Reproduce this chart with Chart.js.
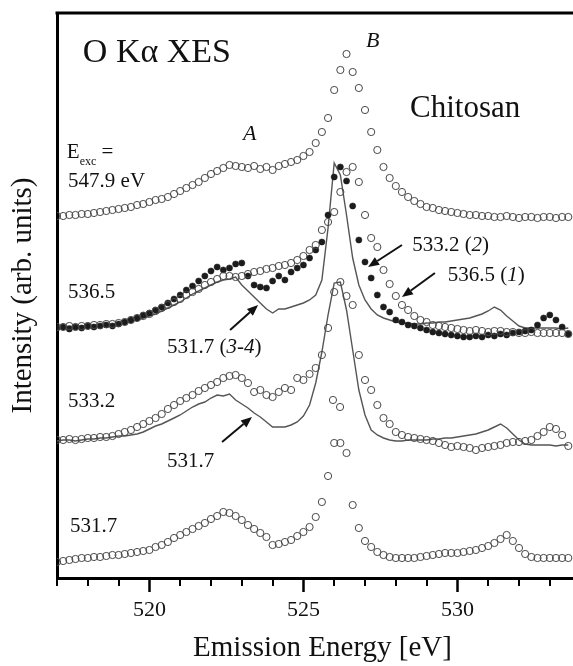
<!DOCTYPE html>
<html>
<head>
<meta charset="utf-8">
<title>O K-alpha XES, Chitosan</title>
<script src="https://cdn.jsdelivr.net/npm/chart.js@4.4.1/dist/chart.umd.min.js"></script>
<style>
  html, body { margin: 0; padding: 0; background: #fff; }
  canvas { display: block; }
</style>
</head>
<body>
<canvas id="xesChart" width="573" height="666"></canvas>
<script>
// --- Data (emission energy in eV, intensity in arb. units, curves already offset) ---
const energy = [
  517.0, 517.2, 517.4, 517.6, 517.8, 518.0, 518.2, 518.4, 518.6, 518.8,
  519.0, 519.2, 519.4, 519.6, 519.8, 520.0, 520.2, 520.4, 520.6, 520.8,
  521.0, 521.2, 521.4, 521.6, 521.8, 522.0, 522.2, 522.4, 522.6, 522.8,
  523.0, 523.2, 523.4, 523.6, 523.8, 524.0, 524.2, 524.4, 524.6, 524.8,
  525.0, 525.2, 525.4, 525.6, 525.8, 526.0, 526.2, 526.4, 526.6, 526.8,
  527.0, 527.2, 527.4, 527.6, 527.8, 528.0, 528.2, 528.4, 528.6, 528.8,
  529.0, 529.2, 529.4, 529.6, 529.8, 530.0, 530.2, 530.4, 530.6, 530.8,
  531.0, 531.2, 531.4, 531.6, 531.8, 532.0, 532.2, 532.4, 532.6, 532.8,
  533.0, 533.2, 533.4, 533.6
];

// E_exc = 547.9 eV (open circles, top)
const exc547_9 = [
  362, 362, 363, 363, 364, 364, 365, 366, 367, 368,
  369, 370, 371, 373, 374, 376, 378, 379, 381, 384,
  387, 390, 393, 396, 400, 404, 407, 410, 413, 412,
  411, 410, 412, 409, 411, 408, 412, 414, 416, 418,
  422, 426, 435, 446, 460, 488, 508, 524, 506, 490,
  468, 446, 428, 411, 400, 392, 386, 381, 377, 374,
  371, 370, 368, 367, 366, 365, 364, 363, 363, 362,
  362, 361, 361, 362, 361, 360, 361, 361, 360, 361,
  361, 360, 361, 361
];

// 536.5 eV group: (1) open circles, (2) 533.2 filled dots, (3-4) 531.7 line
const exc536_5 = [
  251, 251, 252, 251, 252, 252, 253, 253, 254, 254,
  255, 256, 258, 260, 262, 264, 267, 270, 273, 276,
  279, 283, 286, 289, 293, 296, 299, 302, 302, 301,
  302, 304, 306, 307, 309, 310, 312, 313, 315, 318,
  322, 328, 333, 348, 356, 366, 386, 406, 411, 396,
  363, 340, 331, 308, 294, 282, 273, 268, 262, 258,
  256, 253, 252, 251, 250, 249, 248, 247, 248, 247,
  246, 247, 247, 246, 246, 245, 245, 246, 245, 245,
  245, 245, 245, 244
];
const exc533_2dots = [
  250, 251, 249, 251, 250, 252, 251, 252, 253, 252,
  254, 256, 258, 260, 263, 265, 268, 271, 275, 279,
  283, 288, 292, 297, 302, 307, 311, 308, 310, 314,
  315, 302, 293, 291, 290, 297, 302, 298, 306, 310,
  313, 320, 328, 336, 363, 401, 411, 397, 372, 338,
  316, 300, 283, 271, 266, 258, 256, 253, 252, 250,
  248, 246, 245, 244, 243, 242, 241, 241, 242, 241,
  243, 242, 244, 243, 245, 246, 247, 248, 253, 260,
  263, 258, 251, 244
];
const exc531_7lineTop = [
  251, 251, 252, 251, 252, 252, 253, 252, 253, 254,
  254, 255, 257, 258, 260, 262, 264, 267, 270, 273,
  276, 280, 284, 287, 290, 293, 296, 298, 299, 301,
  293, 287, 281, 275, 269, 265, 269, 269, 271, 273,
  275, 278, 283, 298, 350, 415, 403, 363, 320, 293,
  278, 269, 263, 260, 258, 256, 255, 255, 254, 254,
  255, 255, 256, 256, 257, 258, 259, 260, 262, 264,
  267, 271, 268, 262, 257, 252, 250, 250, 250, 250,
  250, 250, 249, 250
];

// 533.2 eV group: open circles + 531.7 line
const exc533_2 = [
  138, 138, 139, 138, 139, 140, 140, 141, 141, 142,
  144, 146, 148, 151, 154, 157, 160, 164, 169, 173,
  177, 180, 183, 187, 190, 193, 196, 200, 202, 203,
  200, 195, 186, 188, 183, 181, 186, 190, 188, 200,
  198, 204, 210, 223, 250, 286, 296, 282, 273, 223,
  198, 188, 173, 160, 154, 146, 143, 141, 140, 139,
  138, 137, 135, 133, 131, 132, 131, 130, 128, 130,
  131, 132, 133, 135, 136, 136, 137, 138, 142, 146,
  151, 149, 143, 132
];
const exc533_2strayE = [525.96, 526.19];
const exc533_2strayI = [178, 171];
const exc531_7lineMid = [
  137, 138, 138, 137, 138, 139, 139, 140, 140, 141,
  142, 142, 143, 144, 146, 149, 152, 154, 157, 160,
  163, 167, 171, 174, 176, 180, 183, 182, 184, 178,
  174, 170, 165, 161, 156, 151, 151, 151, 153, 156,
  162, 173, 195, 226, 263, 295, 296, 268, 228, 188,
  163, 148, 143, 140, 138, 137, 137, 138, 138, 138,
  138, 139, 139, 140, 140, 141, 142, 143, 144, 146,
  148, 151, 154, 150, 144, 138, 134, 133, 133, 133,
  133, 132, 133, 133
];

// E_exc = 531.7 eV (open circles, bottom)
const exc531_7 = [
  16, 17, 18, 19, 20, 20, 21, 21, 22, 23,
  23, 24, 25, 26, 27, 28, 31, 33, 36, 40,
  43, 46, 49, 52, 55, 59, 62, 66, 65, 62,
  58, 53, 49, 45, 41, 33, 34, 36, 38, 42,
  46, 51, 61, 76, 102, 135, 135, 125, 73, 50,
  37, 31, 26, 23, 21, 20, 20, 20, 20, 21,
  22, 23, 24, 25, 25, 25, 26, 27, 28, 30,
  32, 35, 39, 43, 37, 30, 24, 21, 20, 20,
  20, 20, 20, 20
];

const majorTicks = [520, 525, 530];
const minorTicks = [517, 518, 519, 521, 522, 523, 524, 526, 527, 528, 529, 531, 532, 533, 534];

// --- Styling ---
const SERIF = "'Liberation Serif', 'Times New Roman', serif";
const INK = '#111';
const CROP = 15; // the original frame runs on past the right edge of the picture

function points(xs, ys) {
    return xs.map((e, i) => ({ x: e, y: ys[i] }));
}

const openCircles = {
    showLine: false,
    pointStyle: 'circle',
    pointRadius: 3.6,
    borderWidth: 1,
    borderColor: '#474747',
    backgroundColor: 'rgba(0,0,0,0)'
};
const filledDots = {
    showLine: false,
    pointStyle: 'circle',
    pointRadius: 3.1,
    borderWidth: 0.5,
    borderColor: '#1c1c1c',
    backgroundColor: '#1c1c1c'
};
const solidLine = {
    showLine: true,
    pointRadius: 0,
    borderWidth: 1.4,
    borderColor: '#555',
    backgroundColor: '#555',
    tension: 0
};

// Text labels and arrows, placed in data coordinates (eV, intensity)
const notes = [
    { e: 517.84, v: 516, parts: [{ t: 'O K\u03B1 XES', sz: 34 }] },
    { e: 523.04, v: 438, parts: [{ t: 'A', sz: 22, it: true }] },
    { e: 527.03, v: 531, parts: [{ t: 'B', sz: 22, it: true }] },
    { e: 528.46, v: 461, parts: [{ t: 'Chitosan', sz: 31 }] },
    { e: 517.32, v: 420, parts: [{ t: 'E', sz: 21 }, { t: 'exc', sz: 12, dy: 7 }, { t: ' =', sz: 21 }] },
    { e: 517.36, v: 391, parts: [{ t: '547.9 eV', sz: 21 }] },
    { e: 517.36, v: 280, parts: [{ t: '536.5', sz: 21 }] },
    { e: 517.36, v: 171, parts: [{ t: '533.2', sz: 21 }] },
    { e: 517.42, v: 46, parts: [{ t: '531.7', sz: 21 }] },
    { e: 520.57, v: 225, parts: [{ t: '531.7 (', sz: 21 }, { t: '3-4', sz: 21, it: true }, { t: ')', sz: 21 }] },
    { e: 520.57, v: 111, parts: [{ t: '531.7', sz: 21 }] },
    { e: 528.53, v: 327, parts: [{ t: '533.2 (', sz: 21 }, { t: '2', sz: 21, it: true }, { t: ')', sz: 21 }] },
    { e: 529.69, v: 297, parts: [{ t: '536.5 (', sz: 21 }, { t: '1', sz: 21, it: true }, { t: ')', sz: 21 }] }
];
const arrows = [
    { from: [528.20, 333], to: [527.10, 311] },
    { from: [529.27, 305], to: [528.20, 281] },
    { from: [522.62, 248], to: [523.53, 273] },
    { from: [522.36, 136], to: [523.33, 161] }
];

// Let the energy axis run past the canvas edge like the cropped original
const extendRight = {
    id: 'extendRight',
    afterLayout(chart) {
        const x = chart.scales.x;
        x.right += CROP;
        x.width += CROP;
        x.configure();
        chart.chartArea.right += CROP;
        chart.chartArea.width += CROP;
    }
};

// Frame top, minor ticks, labels and arrows
const decorations = {
    id: 'decorations',
    afterDraw(chart) {
        const { ctx, chartArea, scales: { x, y } } = chart;
        ctx.save();

        // top frame line
        ctx.strokeStyle = '#000';
        ctx.lineWidth = 3;
        ctx.beginPath();
        ctx.moveTo(chartArea.left - 1.5, chartArea.top);
        ctx.lineTo(chartArea.right, chartArea.top);
        ctx.stroke();

        // minor ticks on the energy axis
        ctx.lineWidth = 2;
        ctx.beginPath();
        minorTicks.forEach(v => {
            const px = Math.round(x.getPixelForValue(v));
            ctx.moveTo(px, chartArea.bottom);
            ctx.lineTo(px, chartArea.bottom + 8);
        });
        ctx.stroke();

        // labels
        ctx.fillStyle = INK;
        ctx.textBaseline = 'alphabetic';
        ctx.textAlign = 'left';
        notes.forEach(n => {
            let px = x.getPixelForValue(n.e);
            const py = y.getPixelForValue(n.v);
            n.parts.forEach(p => {
                ctx.font = (p.it ? 'italic ' : '') + p.sz + 'px ' + SERIF;
                ctx.fillText(p.t, px, py + (p.dy || 0));
                px += ctx.measureText(p.t).width;
            });
        });

        // arrows
        ctx.strokeStyle = INK;
        ctx.lineWidth = 2;
        arrows.forEach(a => {
            const x1 = x.getPixelForValue(a.from[0]), y1 = y.getPixelForValue(a.from[1]);
            const x2 = x.getPixelForValue(a.to[0]), y2 = y.getPixelForValue(a.to[1]);
            const ang = Math.atan2(y2 - y1, x2 - x1);
            const len = 11, half = 4.5;
            const bx = x2 - len * Math.cos(ang), by = y2 - len * Math.sin(ang);
            ctx.beginPath();
            ctx.moveTo(x1, y1);
            ctx.lineTo(bx, by);
            ctx.stroke();
            ctx.beginPath();
            ctx.moveTo(x2, y2);
            ctx.lineTo(bx + half * Math.sin(ang), by - half * Math.cos(ang));
            ctx.lineTo(bx - half * Math.sin(ang), by + half * Math.cos(ang));
            ctx.closePath();
            ctx.fill();
        });

        ctx.restore();
    }
};

const ctx = document.getElementById('xesChart').getContext('2d');
new Chart(ctx, {
    type: 'scatter',
    data: {
        datasets: [
            { label: '547.9 eV', data: points(energy, exc547_9), ...openCircles },
            { label: '536.5 (1)', data: points(energy, exc536_5), ...openCircles },
            { label: '533.2 (2)', data: points(energy, exc533_2dots), ...filledDots },
            { label: '531.7 (3-4)', data: points(energy, exc531_7lineTop), ...solidLine },
            { label: '533.2', data: points(energy, exc533_2).concat(points(exc533_2strayE, exc533_2strayI)), ...openCircles },
            { label: '531.7', data: points(energy, exc531_7lineMid), ...solidLine },
            { label: '531.7 bottom', data: points(energy, exc531_7), ...openCircles }
        ]
    },
    options: {
        responsive: false,
        animation: false,
        events: [],
        layout: { autoPadding: false, padding: { top: 13, right: 0, left: 0, bottom: 0 } },
        plugins: {
            legend: { display: false },
            tooltip: { enabled: false }
        },
        scales: {
            x: {
                type: 'linear',
                min: 517,
                max: 534.24,
                afterBuildTicks: axis => { axis.ticks = majorTicks.map(v => ({ value: v })); },
                afterFit: axis => {
                    axis.height = 88;
                    axis.paddingLeft = 0;
                    axis.paddingRight = 0;
                },
                grid: { drawOnChartArea: false, drawTicks: true, tickLength: 14, tickWidth: 2.5, tickColor: '#000' },
                border: { display: true, width: 3, color: '#000' },
                ticks: { color: INK, font: { family: SERIF, size: 22 }, padding: 5, maxRotation: 0 },
                title: {
                    display: true,
                    text: 'Emission Energy [eV]',
                    color: INK,
                    font: { family: SERIF, size: 29 },
                    padding: { top: 0, bottom: 0 }
                }
            },
            y: {
                min: 0,
                max: 565,
                afterFit: axis => {
                    axis.width = 57;
                    axis.paddingTop = 0;
                    axis.paddingBottom = 0;
                },
                grid: { display: false },
                border: { display: true, width: 3, color: '#000' },
                ticks: { display: false },
                title: {
                    display: true,
                    text: 'Intensity (arb. units)',
                    color: INK,
                    font: { family: SERIF, size: 29 },
                    padding: { top: 6, bottom: 0 }
                }
            }
        }
    },
    plugins: [extendRight, decorations]
});
</script>
</body>
</html>
